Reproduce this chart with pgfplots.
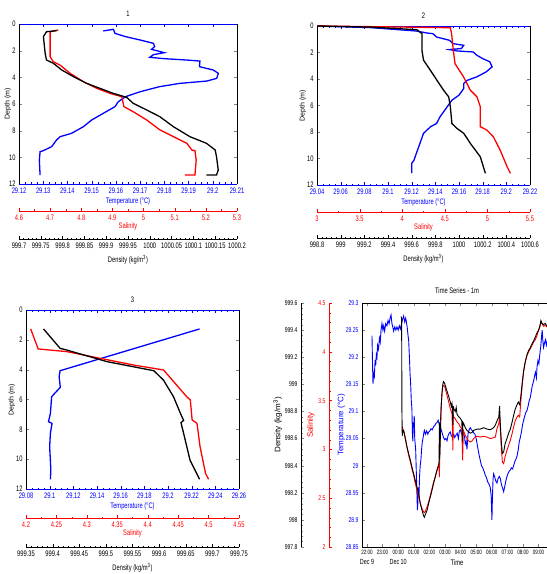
\documentclass[border=0pt]{standalone}
\usepackage{pgfplots}
\pgfplotsset{compat=1.18}
\usepackage{fontspec}
\setmainfont{Liberation Sans}[FakeStretch=0.72]
\newfontfamily\widefont{Liberation Sans}
\definecolor{mblue}{RGB}{0,0,255}
\definecolor{mred}{RGB}{255,0,0}
\pgfplotsset{
  base/.style={scale only axis, anchor=south west, tick align=inside,
    /pgf/number format/assume math mode=true,
    /pgf/number format/1000 sep={},
    tick label style={font=\fontsize{8}{9}\selectfont},
    label style={font=\fontsize{8}{9}\selectfont},
    title style={font=\fontsize{8}{9}\selectfont},
    major tick length=3pt, minor tick length=1.5pt},
  prof/.style={base, y dir=reverse, ymin=0, ymax=12, ytick={0,2,4,6,8,10,12}},
  tempax/.style={prof, separate axis lines,
    x axis line style={mblue}, y axis line style={black},
    xtick style={mblue}, xticklabel style={text=mblue}, xlabel style={text=mblue},
    minor x tick num=3, ylabel shift=-6pt, title style={yshift=-2pt},
    ylabel={\widefont\fontsize{7}{8}\selectfont Depth (m)},
    xlabel={Temperature (\textdegree C)}, xlabel shift=-2pt},
  salax/.style={prof, axis x line*=bottom, axis y line=none, ytick=\empty,
    x axis line style={mred,-}, xtick style={mred}, xticklabel style={text=mred},
    xlabel style={text=mred}, xlabel={Salinity}, xlabel shift=-4pt, minor x tick num=1},
  denax/.style={prof, axis x line*=bottom, axis y line=none, ytick=\empty,
    x axis line style={black,-}, xtick style={black}, minor x tick num=4,
    xlabel={Density (kg/m\textsuperscript{3})}},
  bl/.style={mblue, line width=1.3pt},
  rl/.style={mred, line width=1.3pt},
  kl/.style={black, line width=1.3pt},
  tsax/.style={base, at={(362pt,27pt)}, width=190pt, height=244pt, xmin=-0.32, xmax=11.86,
    yticklabel style={font=\fontsize{7}{8}\selectfont}},
}
\begin{document}
\begin{tikzpicture}[x=1pt,y=1pt]
\useasboundingbox (0,0) rectangle (547,574);

% ================= Panel 1 =================
\begin{axis}[tempax, at={(19pt,390pt)}, width=218pt, height=160pt, title={1}, ylabel shift=-9pt,
  xmin=29.12, xmax=29.21, xtick={29.12,29.13,29.14,29.15,29.16,29.17,29.18,29.19,29.2,29.21}]
\addplot[bl] coordinates {(29.1548,0.52)(29.1590,0.40)(29.1596,0.70)(29.1640,0.95)(29.1700,1.20)(29.1755,1.45)(29.1760,1.70)(29.1747,1.90)(29.1800,2.15)(29.1755,2.30)(29.1740,2.50)(29.1800,2.60)(29.1890,2.70)(29.1947,2.78)(29.1945,3.20)(29.2002,3.45)(29.2023,3.70)(29.2016,4.08)(29.1975,4.28)(29.1865,4.45)(29.1780,4.70)(29.1700,5.08)(29.1640,5.45)(29.1610,5.83)(29.1596,6.20)(29.1548,6.70)(29.1500,7.20)(29.1466,7.70)(29.1417,8.20)(29.1370,8.45)(29.1355,8.70)(29.1335,9.20)(29.1300,9.50)(29.1287,9.58)(29.1284,10.20)(29.1287,11.33)};
\end{axis}
\begin{axis}[salax, at={(19pt,390pt)}, width=218pt, height=160pt, axis x line shift=27pt,
  xmin=4.6, xmax=5.3, xtick={4.6,4.7,4.8,4.9,5,5.1,5.2,5.3}]
\addplot[rl] coordinates {(4.726,0.45)(4.700,0.58)(4.700,1.20)(4.700,2.45)(4.710,2.83)(4.732,3.08)(4.764,3.70)(4.807,4.33)(4.850,4.83)(4.892,5.20)(4.930,5.45)(4.937,6.20)(4.967,6.58)(5.010,7.20)(5.053,7.95)(5.096,8.45)(5.139,8.95)(5.155,9.45)(5.165,9.50)(5.169,10.20)(5.165,11.33)(5.133,11.33)};
\end{axis}
\begin{axis}[denax, at={(19pt,390pt)}, width=218pt, height=160pt, axis x line shift=55pt,
  xmin=999.7, xmax=1000.2, xtick={999.7,999.75,999.8,999.85,999.9,999.95,1000,1000.05,1000.1,1000.15,1000.2}]
\addplot[kl] coordinates {(999.786,0.50)(999.763,0.58)(999.756,0.95)(999.760,2.20)(999.763,2.70)(999.779,2.95)(999.798,3.45)(999.825,3.95)(999.855,4.45)(999.886,4.83)(999.916,5.20)(999.947,5.50)(999.962,5.95)(999.993,6.45)(1000.023,6.95)(1000.054,7.70)(1000.092,8.45)(1000.130,8.95)(1000.150,9.45)(1000.153,9.95)(1000.157,10.95)(1000.153,11.33)(1000.130,11.33)};
\end{axis}

% ================= Panel 2 =================
\begin{axis}[tempax, at={(317pt,389pt)}, width=213pt, height=159pt, title={2},
  xmin=29.04, xmax=29.22, xtick={29.04,29.06,29.08,29.1,29.12,29.14,29.16,29.18,29.2,29.22}]
\addplot[bl] coordinates {(29.040,0.00)(29.085,0.12)(29.124,0.38)(29.133,0.53)(29.138,0.58)(29.141,0.83)(29.152,1.08)(29.155,1.33)(29.164,1.46)(29.162,1.70)(29.152,1.78)(29.158,1.88)(29.172,1.96)(29.175,2.20)(29.180,2.46)(29.186,2.70)(29.188,3.08)(29.183,3.46)(29.175,3.84)(29.167,4.10)(29.164,4.34)(29.164,4.72)(29.160,5.22)(29.154,5.60)(29.150,6.10)(29.144,6.85)(29.141,7.36)(29.136,7.60)(29.130,8.10)(29.127,8.86)(29.124,9.60)(29.122,10.12)(29.120,10.37)(29.120,11.10)};
\end{axis}
\begin{axis}[salax, at={(317pt,389pt)}, width=213pt, height=159pt, axis x line shift=27pt,
  xmin=3, xmax=5.5, xtick={3,3.5,4,4.5,5,5.5}]
\addplot[rl] coordinates {(3.00,0.00)(4.017,0.08)(4.565,0.13)(4.58,0.58)(4.60,1.83)(4.62,2.84)(4.72,3.84)(4.80,4.85)(4.878,5.35)(4.917,6.10)(4.917,7.60)(4.995,7.86)(5.07,8.36)(5.15,9.37)(5.23,10.60)(5.27,11.12)};
\end{axis}
\begin{axis}[denax, at={(317pt,389pt)}, width=213pt, height=159pt, axis x line shift=53pt,
  xmin=998.8, xmax=1000.6, xtick={998.8,999,999.2,999.4,999.6,999.8,1000,1000.2,1000.4,1000.6}]
\addplot[kl] coordinates {(998.80,0.00)(999.25,0.08)(999.645,0.28)(999.687,0.58)(999.687,1.83)(999.70,2.58)(999.758,3.34)(999.814,4.10)(999.87,4.85)(999.913,5.35)(999.927,6.10)(999.94,7.36)(999.983,7.73)(1000.04,8.10)(1000.096,8.86)(1000.18,9.87)(1000.223,11.12)};
\end{axis}

% ================= Panel 3 =================
\begin{axis}[tempax, at={(26pt,85pt)}, width=213pt, height=179pt, title={3},
  xmin=29.08, xmax=29.26, xtick={29.08,29.1,29.12,29.14,29.16,29.18,29.2,29.22,29.24,29.26}]
\addplot[bl] coordinates {(29.2267,1.27)(29.1088,4.07)(29.108,4.47)(29.109,5.18)(29.1017,5.81)(29.1006,6.93)(29.099,7.49)(29.102,7.60)(29.1006,8.27)(29.100,9.16)(29.101,10.73)(29.1006,11.35)};
\end{axis}
\begin{axis}[salax, at={(26pt,85pt)}, width=213pt, height=179pt, axis x line shift=29pt,
  xmin=4.2, xmax=4.55, xtick={4.2,4.25,4.3,4.35,4.4,4.45,4.5,4.55}]
\addplot[rl] coordinates {(4.2077,1.27)(4.22,2.61)(4.267,2.79)(4.322,3.24)(4.377,3.69)(4.426,4.02)(4.464,5.81)(4.47,6.03)(4.473,7.37)(4.481,7.60)(4.486,9.16)(4.495,10.95)(4.50,11.35)};
\end{axis}
\begin{axis}[denax, at={(26pt,85pt)}, width=213pt, height=179pt, axis x line shift=58pt,
  xmin=999.35, xmax=999.75, xtick={999.35,999.4,999.45,999.5,999.55,999.6,999.65,999.7,999.75}]
\addplot[kl] coordinates {(999.383,1.27)(999.414,2.57)(999.426,2.68)(999.502,3.46)(999.59,4.07)(999.608,4.69)(999.627,5.81)(999.64,6.93)(999.646,7.40)(999.641,7.55)(999.646,8.27)(999.658,10.06)(999.676,11.35)};
\end{axis}

% ================= Panel 4 =================
\begin{axis}[tsax,
  title={Time Series - 1m}, ymin=28.85, ymax=29.3,
  xtick={0,1,2,3,4,5,6,7,8,9,10,11},
  xticklabels={{22:00\\\fontsize{7.5}{9}\selectfont Dec 9},23:00,{00:00\\\fontsize{7.5}{9}\selectfont Dec 10},01:00,02:00,03:00,04:00,05:00,06:00,07:00,08:00,09:00},
  xticklabel style={align=center, font=\fontsize{6.3}{10}\selectfont},
  ytick={28.85,28.9,28.95,29,29.05,29.1,29.15,29.2,29.25,29.3},
  yticklabel style={text=mblue},
  ylabel={\widefont\fontsize{8}{9}\selectfont Temperature (\textdegree C)}, ylabel style={text=mblue}, ylabel shift=-6pt,
  xlabel={Time}, xlabel style={yshift=12pt}]
\addplot[mblue, line width=0.9pt] coordinates {(0.32,29.240)(0.36,29.180)(0.385,29.151)(0.42,29.170)(0.47,29.164)(0.52,29.195)(0.56,29.185)(0.60,29.205)(0.64,29.200)(0.68,29.222)(0.74,29.215)(0.80,29.235)(0.85,29.228)(0.90,29.250)(0.96,29.262)(1.02,29.250)(1.07,29.258)(1.13,29.248)(1.20,29.262)(1.28,29.258)(1.35,29.268)(1.42,29.262)(1.48,29.272)(1.54,29.278)(1.60,29.262)(1.66,29.255)(1.71,29.248)(1.78,29.256)(1.85,29.250)(1.92,29.256)(2.00,29.250)(2.07,29.258)(2.14,29.252)(2.22,29.262)(2.28,29.270)(2.35,29.276)(2.42,29.265)(2.48,29.272)(2.52,29.266)(2.58,29.255)(2.63,29.240)(2.67,29.232)(2.72,29.200)(2.76,29.170)(2.80,29.150)(2.84,29.120)(2.88,29.105)(2.91,29.060)(2.94,29.045)(2.97,29.080)(3.00,29.070)(3.03,29.092)(3.06,29.050)(3.09,29.040)(3.12,29.030)(3.16,28.990)(3.20,28.950)(3.23,28.918)(3.26,28.930)(3.29,28.960)(3.33,28.942)(3.37,28.980)(3.41,29.000)(3.46,29.012)(3.50,29.030)(3.55,29.045)(3.59,29.050)(3.64,29.060)(3.68,29.065)(3.75,29.058)(3.82,29.064)(3.90,29.058)(3.95,29.062)(4.03,29.064)(4.10,29.068)(4.18,29.066)(4.27,29.072)(4.35,29.074)(4.42,29.078)(4.50,29.080)(4.56,29.084)(4.62,29.078)(4.68,29.072)(4.74,29.068)(4.80,29.062)(4.86,29.056)(4.91,29.052)(4.97,29.048)(5.05,29.050)(5.13,29.046)(5.20,29.056)(5.27,29.060)(5.34,29.062)(5.40,29.056)(5.48,29.052)(5.56,29.058)(5.62,29.052)(5.70,29.056)(5.78,29.060)(5.86,29.050)(5.92,29.064)(5.98,29.066)(6.05,29.060)(6.12,29.056)(6.18,29.060)(6.25,29.054)(6.30,29.040)(6.36,29.045)(6.41,29.030)(6.48,29.060)(6.55,29.066)(6.62,29.070)(6.70,29.066)(6.78,29.064)(6.85,29.060)(6.92,29.058)(7.00,29.050)(7.06,29.040)(7.12,29.030)(7.20,29.018)(7.26,29.010)(7.34,29.000)(7.42,28.996)(7.50,28.990)(7.59,28.982)(7.66,28.978)(7.74,28.970)(7.82,28.966)(7.90,28.960)(7.96,28.945)(8.01,28.900)(8.04,28.940)(8.08,28.975)(8.12,28.985)(8.18,28.980)(8.25,28.972)(8.33,28.968)(8.40,28.976)(8.48,28.980)(8.55,28.976)(8.62,28.965)(8.70,28.958)(8.76,28.952)(8.82,28.960)(8.90,28.972)(8.97,28.980)(9.05,28.986)(9.12,28.990)(9.19,28.992)(9.26,28.996)(9.33,28.994)(9.40,29.000)(9.48,29.008)(9.55,29.012)(9.62,29.018)(9.70,29.030)(9.76,29.044)(9.83,29.052)(9.90,29.062)(9.97,29.075)(10.04,29.084)(10.10,29.090)(10.18,29.098)(10.26,29.102)(10.33,29.110)(10.40,29.120)(10.47,29.126)(10.54,29.138)(10.60,29.148)(10.68,29.156)(10.74,29.165)(10.80,29.172)(10.86,29.162)(10.90,29.182)(10.96,29.194)(11.02,29.188)(11.08,29.206)(11.14,29.220)(11.19,29.238)(11.23,29.250)(11.27,29.232)(11.32,29.218)(11.38,29.226)(11.44,29.232)(11.50,29.222)(11.56,29.230)(11.62,29.220)(11.70,29.210)};
\end{axis}
\begin{axis}[tsax, ymin=2, ymax=4.5,
  axis y line*=left, axis x line=none, xtick=\empty, axis y line shift=33pt,
  y axis line style={mred,-}, ytick style={mred}, minor y tick num=4,
  ytick={2,2.5,3,3.5,4,4.5},
  yticklabel style={text=mred},
  ylabel={\widefont\fontsize{8}{9}\selectfont Salinity}, ylabel style={text=mred}, ylabel shift=-3pt]
\addplot[mred, line width=0.9pt] coordinates {(2.26,3.230)(2.35,3.189)(2.45,3.127)(2.56,3.025)(2.67,2.939)(2.78,2.871)(2.88,2.803)(2.99,2.734)(3.10,2.649)(3.21,2.581)(3.32,2.512)(3.42,2.444)(3.53,2.393)(3.63,2.359)(3.68,2.352)(3.74,2.365)(3.85,2.410)(3.95,2.461)(4.06,2.529)(4.17,2.598)(4.27,2.666)(4.38,2.717)(4.49,2.786)(4.58,2.837)(4.62,2.820)(4.64,2.717)(4.66,2.888)(4.70,3.230)(4.75,3.434)(4.81,3.571)(4.86,3.646)(4.91,3.656)(4.97,3.646)(5.02,3.622)(5.13,3.554)(5.24,3.486)(5.34,3.417)(5.45,3.366)(5.51,2.990)(5.53,3.350)(5.56,3.332)(5.66,3.315)(5.77,3.281)(5.88,3.264)(5.98,3.230)(6.08,3.212)(6.13,2.888)(6.18,3.195)(6.30,3.144)(6.41,3.110)(6.52,3.086)(6.62,3.076)(6.73,3.086)(6.84,3.110)(6.94,3.127)(7.05,3.134)(7.26,3.127)(7.48,3.134)(7.69,3.127)(7.91,3.110)(8.12,3.120)(8.23,3.127)(8.33,3.212)(8.45,3.264)(8.50,3.332)(8.55,3.195)(8.62,2.990)(8.68,2.871)(8.76,2.854)(8.85,2.922)(8.97,2.990)(9.08,3.042)(9.19,3.093)(9.30,3.161)(9.40,3.230)(9.51,3.298)(9.62,3.332)(9.70,3.349)(9.79,3.332)(9.85,3.469)(9.94,3.639)(10.04,3.793)(10.15,3.895)(10.26,3.964)(10.36,3.998)(10.47,4.032)(10.58,4.066)(10.68,4.100)(10.79,4.124)(10.90,4.168)(11.00,4.220)(11.08,4.254)(11.15,4.305)(11.22,4.288)(11.32,4.261)(11.42,4.271)(11.54,4.254)(11.70,4.260)};
\end{axis}
\begin{axis}[tsax, ymin=997.8, ymax=999.6,
  axis y line*=left, axis x line=none, xtick=\empty, axis y line shift=61pt,
  y axis line style={black,-}, minor y tick num=4,
  ytick={997.8,998,998.2,998.4,998.6,998.8,999,999.2,999.4,999.6},
  ylabel={\widefont\fontsize{8}{9}\selectfont Density (kg/m\textsuperscript{3})}, ylabel shift=-4pt]
\addplot[black, line width=0.9pt] coordinates {(2.18,999.50)(2.22,999.49)(2.24,998.80)(2.26,998.62)(2.30,998.66)(2.35,998.66)(2.45,998.60)(2.56,998.54)(2.67,998.49)(2.78,998.44)(2.88,998.39)(2.99,998.34)(3.10,998.29)(3.21,998.24)(3.32,998.19)(3.42,998.12)(3.53,998.07)(3.63,998.03)(3.68,998.02)(3.74,998.04)(3.85,998.07)(3.95,998.12)(4.06,998.17)(4.17,998.22)(4.27,998.27)(4.38,998.32)(4.49,998.37)(4.58,998.40)(4.62,998.43)(4.64,998.72)(4.66,998.45)(4.70,998.60)(4.75,998.82)(4.81,998.94)(4.86,999.00)(4.91,999.02)(4.97,999.01)(5.02,998.99)(5.13,998.95)(5.24,998.91)(5.34,998.87)(5.40,998.84)(5.45,998.86)(5.51,998.70)(5.53,998.84)(5.56,998.82)(5.66,998.80)(5.72,998.83)(5.77,998.78)(5.88,998.76)(5.98,998.75)(6.08,998.73)(6.11,998.58)(6.15,998.72)(6.20,998.71)(6.30,998.68)(6.41,998.66)(6.52,998.65)(6.62,998.64)(6.73,998.645)(6.84,998.66)(6.94,998.665)(7.05,998.67)(7.26,998.67)(7.48,998.68)(7.69,998.67)(7.91,998.665)(8.12,998.68)(8.23,998.70)(8.33,998.73)(8.45,998.76)(8.50,998.84)(8.55,998.70)(8.62,998.56)(8.68,998.49)(8.76,998.50)(8.85,998.56)(8.97,998.60)(9.08,998.64)(9.19,998.67)(9.30,998.72)(9.40,998.77)(9.51,998.82)(9.62,998.85)(9.70,998.87)(9.79,998.85)(9.85,998.90)(9.94,999.00)(10.04,999.10)(10.15,999.17)(10.26,999.22)(10.36,999.25)(10.47,999.27)(10.58,999.30)(10.68,999.32)(10.79,999.35)(10.90,999.38)(11.00,999.40)(11.08,999.43)(11.15,999.47)(11.22,999.45)(11.32,999.44)(11.42,999.45)(11.54,999.43)(11.70,999.44)};
\end{axis}
\end{tikzpicture}
\end{document}
